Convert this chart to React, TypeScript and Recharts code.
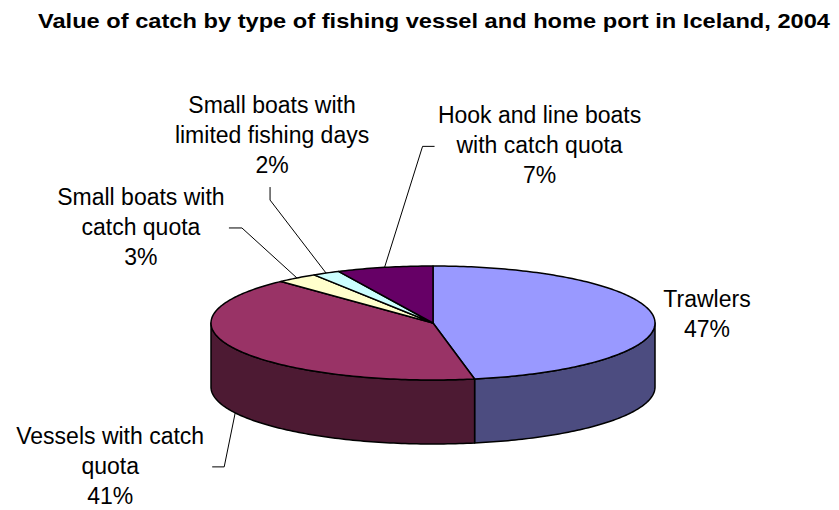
import React from 'react';
import { PieChart, Pie, Cell } from 'recharts';

// --- data ---
const categories = [
  'Trawlers',
  'Vessels with catch quota',
  'Small boats with catch quota',
  'Small boats with limited fishing days',
  'Hook and line boats with catch quota',
];
const shares = [47, 41, 3, 2, 7];
// label text broken the way the original prints it
const labelLines = [
  ['Trawlers'],
  ['Vessels with catch', 'quota'],
  ['Small boats with', 'catch quota'],
  ['Small boats with', 'limited fishing days'],
  ['Hook and line boats', 'with catch quota'],
];

const chartData = categories.map((name, i) => ({ name, value: shares[i] }));

// --- styling / geometry ---
const topColors = ['#9999FF', '#993366', '#FFFFCC', '#CCFFFF', '#660066'];
const sideColors = ['#4C4C80', '#4D1A33', '#808066', '#668080', '#330033'];
const CX = 433;
const CY = 323;
const RX = 222;
const RY = 57;
const DEPTH = 64;
const FONT = 'Arial, "Liberation Sans", sans-serif';

// text centre and leader line, relative to the slice anchor on the pie edge
const labelPlacement = [
  { tx: 53, ty: -19, line: null },
  { tx: -125, ty: 23, line: [[-11, 54], [-23, 54]] },
  { tx: -156, ty: -81, line: [[-55, -50], [-68, -50]] },
  { tx: -54, ty: -168, line: [[-56, -73], [-56, -86]] },
  { tx: 155, ty: -152, line: [[38, -121], [50, -121]] },
];

const RAD = Math.PI / 180;
const pt = (cx: number, cy: number, a: number, dy = 0) =>
  [cx + RX * Math.cos(a * RAD), cy - RY * Math.sin(a * RAD) + dy];

const arc = (cx: number, cy: number, from: number, to: number, dy = 0) => {
  const pts: number[][] = [];
  const steps = Math.max(2, Math.ceil(Math.abs(to - from)));
  for (let k = 0; k <= steps; k++) {
    pts.push(pt(cx, cy, from + ((to - from) * k) / steps, dy));
  }
  return pts;
};

const toPath = (pts: number[][]) =>
  'M' + pts.map((p) => `${p[0].toFixed(2)},${p[1].toFixed(2)}`).join('L') + 'Z';

const Slice3D = (props: any) => {
  const { cx, cy, startAngle, endAngle, name } = props;
  const idx = categories.indexOf(name);
  // front half of the ellipse lies between 0 and -180 (clockwise)
  const a1 = Math.min(startAngle, 0);
  const a2 = Math.max(endAngle, -180);
  const wall =
    a1 > a2 ? toPath([...arc(cx, cy, a1, a2), ...arc(cx, cy, a2, a1, DEPTH)]) : null;
  const top = toPath([[cx, cy], ...arc(cx, cy, startAngle, endAngle)]);
  return (
    <g>
      {wall && (
        <path d={wall} fill={sideColors[idx]} stroke="#000" strokeWidth={1.5} strokeLinejoin="round" />
      )}
      <path d={top} fill={topColors[idx]} stroke="#000" strokeWidth={1.5} strokeLinejoin="round" />
    </g>
  );
};

const renderLabel = (props: any) => {
  const { cx, cy, midAngle, name, value } = props;
  const idx = categories.indexOf(name);
  const place = labelPlacement[idx];
  const front = Math.sin(midAngle * RAD) < 0;
  const [ax, ay] = pt(cx, cy, midAngle, front && place.line ? DEPTH : 0);
  const lines = [...labelLines[idx], `${value}%`];
  return (
    <g>
      {place.line && (
        <polyline
          points={[[ax, ay], ...place.line.map(([dx, dy]) => [ax + dx, ay + dy])]
            .map((p) => p.join(','))
            .join(' ')}
          fill="none"
          stroke="#000"
          strokeWidth={1}
        />
      )}
      <text textAnchor="middle" fontFamily={FONT} fontSize={23} fill="#000">
        {lines.map((l, k) => (
          <tspan key={k} x={ax + place.tx} y={ay + place.ty + k * 30 + 8}>
            {l}
          </tspan>
        ))}
      </text>
    </g>
  );
};

export default function App() {
  return (
    <div style={{ position: 'absolute', left: 0, top: 0, background: '#fff' }}>
      <PieChart width={839} height={510} margin={{ top: 0, right: 0, bottom: 0, left: 0 }}>
        <text
          x={434}
          y={28}
          textAnchor="middle"
          fontFamily={FONT}
          fontSize={21}
          fontWeight="bold"
          textLength={792}
          lengthAdjust="spacingAndGlyphs"
          fill="#000"
        >
          Value of catch by type of fishing vessel and home port in Iceland, 2004
        </text>
        <Pie
          data={chartData}
          dataKey="value"
          nameKey="name"
          cx={CX}
          cy={CY}
          outerRadius={RX}
          startAngle={90}
          endAngle={-270}
          isAnimationActive={false}
          shape={Slice3D}
          activeShape={Slice3D}
          inactiveShape={Slice3D}
          label={renderLabel}
          labelLine={false}
        >
          {chartData.map((d, i) => (
            <Cell key={d.name} fill={topColors[i]} />
          ))}
        </Pie>
      </PieChart>
    </div>
  );
}
